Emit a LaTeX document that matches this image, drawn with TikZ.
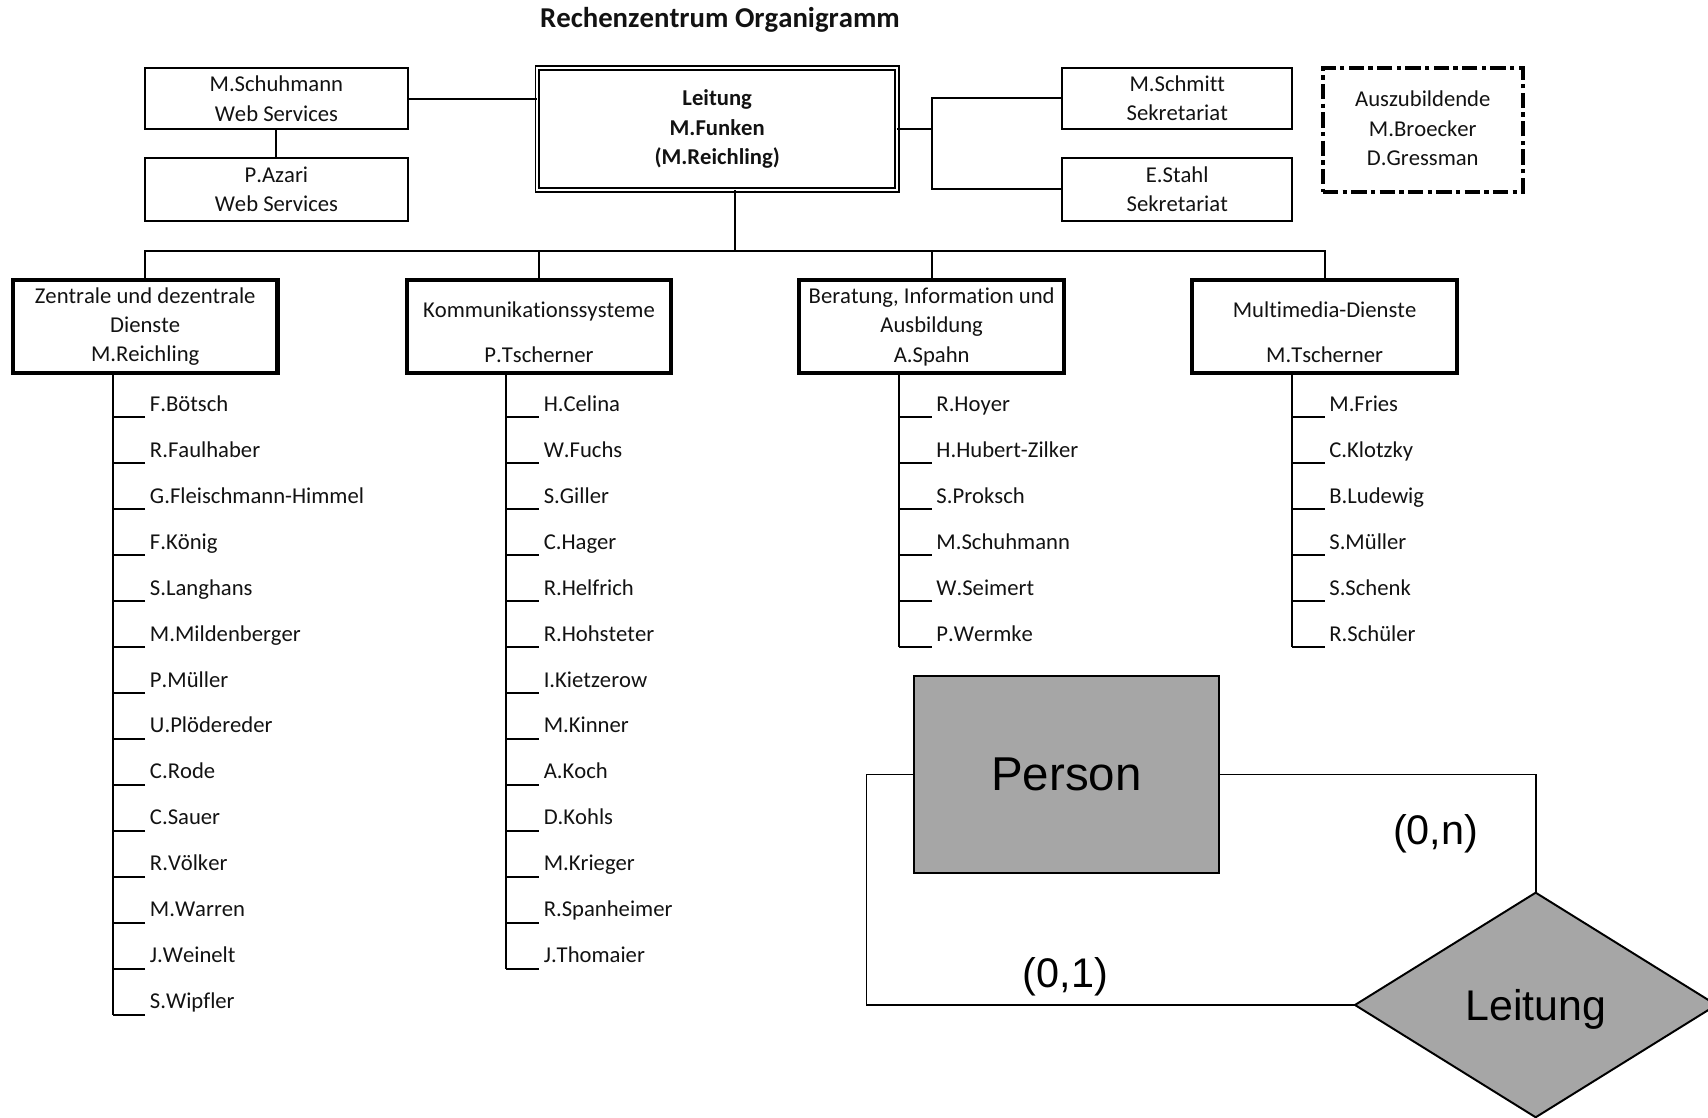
\documentclass[tikz,border=0pt]{standalone}
\usepackage{fontspec}
\setmainfont{Carlito}[Ligatures=NoCommon, Kerning=Off]
\newfontfamily\erfont{Liberation Sans}
\usetikzlibrary{shapes.geometric,calc}
\definecolor{ergray}{RGB}{166,166,166}
\definecolor{ink}{RGB}{18,18,18}

\tikzset{
  orgtext/.style={font=\fontsize{10.4pt}{13.5pt}\selectfont, text=ink},
  link/.style={line width=0.9pt},
  smallbox/.style={draw, line width=0.9pt, minimum width=120.5pt, minimum height=28pt,
    inner sep=0pt, outer sep=0pt, align=center, orgtext},
  leadbox/.style={draw, double, double distance=0.9pt, line width=0.8pt,
    minimum width=165.2pt, minimum height=56pt, inner sep=0pt, outer sep=0pt,
    align=center, orgtext, font=\fontsize{10.4pt}{13.5pt}\selectfont\bfseries},
  traineebox/.style={draw, line width=1.9pt, dash pattern=on 7pt off 2pt on 2pt off 2pt,
    minimum width=91.6pt, minimum height=56.6pt, inner sep=0pt, outer sep=0pt,
    align=center, orgtext},
  deptbox/.style={draw, line width=1.9pt, minimum width=121.5pt, minimum height=42.8pt,
    inner sep=0pt, outer sep=0pt, align=center, orgtext},
  member/.style={orgtext, anchor=base west, inner sep=0pt},
  erline/.style={line width=0.8pt},
  entity/.style={draw, line width=0.9pt, fill=ergray, minimum width=139.7pt,
    minimum height=90.7pt, inner sep=0pt, outer sep=0pt,
    font=\erfont\fontsize{21.8pt}{26pt}\selectfont},
  relation/.style={diamond, draw, line width=0.9pt, fill=ergray, minimum width=165.9pt,
    minimum height=103.1pt, inner sep=0pt, outer sep=0pt, text depth=0pt,
    font=\erfont\fontsize{19.7pt}{24pt}\selectfont},
  cardinality/.style={anchor=base, inner sep=0pt, font=\erfont\fontsize{19pt}{23pt}\selectfont}
}

\begin{document}
\begin{tikzpicture}[x=0.5pt, y=-0.5pt]
\useasboundingbox (0,0) rectangle (1568,1026);
\clip (0,0) rectangle (1568,1026);

% title
\node[anchor=base, inner sep=0pt, text=ink, font=\fontsize{13.2pt}{16pt}\selectfont\bfseries]
  (title) at (661,25.4) {Rechenzentrum Organigramm};

% head of the centre and staff positions
\node[leadbox] (lead) at (658.4,118.45) {Leitung\\M.Funken\\(M.Reichling)};
\node[smallbox] (schu) at (253.75,90.7) {M.Schuhmann\\Web Services};
\node[smallbox, minimum height=28.6pt] (azari) at (253.75,174) {P.Azari\\Web Services};
\node[smallbox, minimum width=105.5pt] (schmitt) at (1080.75,90.4) {M.Schmitt\\Sekretariat};
\node[smallbox, minimum width=105.5pt, minimum height=29.1pt] (stahl) at (1080.75,173.8) {E.Stahl\\Sekretariat};
\node[traineebox] (azubi) at (1306.15,119.35) {Auszubildende\\M.Broecker\\D.Gressman\rule[-1.6pt]{0pt}{0pt}};

\draw[link] (schu.east) -- (lead.west |- schu.east);
\draw[link] (schu.south) -- (azari.north);
\coordinate (sekj) at (855.6,118.45);
\draw[link] (lead.east) -- (sekj);
\draw[link] (schmitt.west) -| (sekj) |- (stahl.west);

% departments
\node[deptbox] (d1) at (133.3,299.8) {Zentrale und dezentrale\\Dienste\\M.Reichling};
\node[deptbox] (d2) at (494.8,299.8) {\rule{0pt}{12.2pt}Kommunikationssysteme\\[7pt]P.Tscherner};
\node[deptbox] (d3) at (855.3,299.8) {Beratung, Information und\\Ausbildung\\A.Spahn};
\node[deptbox] (d4) at (1216,299.8) {\rule{0pt}{12.2pt}Multimedia-Dienste\\[7pt]M.Tscherner};

\coordinate (bus) at (675,230);
\draw[link] (lead.south -| bus) -- (bus);
\draw[link] (d1.north) |- (bus) -| (d4.north);
\draw[link] (d2.north) -- (d2.north |- bus);
\draw[link] (d3.north) -- (d3.north |- bus);

% staff lists below each department
\foreach \dep/\last/\names in {
  d1/13/{F.Bötsch,R.Faulhaber,G.Fleischmann-Himmel,F.König,S.Langhans,M.Mildenberger,P.Müller,U.Plödereder,C.Rode,C.Sauer,R.Völker,M.Warren,J.Weinelt,S.Wipfler},
  d2/12/{H.Celina,W.Fuchs,S.Giller,C.Hager,R.Helfrich,R.Hohsteter,I.Kietzerow,M.Kinner,A.Koch,D.Kohls,M.Krieger,R.Spanheimer,J.Thomaier},
  d3/5/{R.Hoyer,H.Hubert-Zilker,S.Proksch,M.Schuhmann,W.Seimert,P.Wermke},
  d4/5/{M.Fries,C.Klotzky,B.Ludewig,S.Müller,S.Schenk,R.Schüler}}{
  \foreach \nm [count=\i from 0] in \names {
    \node[member] (\dep-m\i) at ($(\dep.south)+(4,{34.9+42.2*\i})$) {\nm};
    \draw[link] ([xshift=-2pt,yshift=-2.75pt]\dep-m\i.base west) -- ++(-30,0) coordinate (\dep-t\i);
  }
  \draw[link] (\dep.south -| \dep-t0) -- (\dep-t\last);
}

% entity-relationship sketch
\node[entity] (person) at (979.1,711) {Person};
\node[relation] (rel) at (1409.8,922.6) {Leitung};
\draw[erline] (person.east) -| (rel.north);
\draw[erline] (person.west) -- ++(-44,0) |- (rel.west);
\node[cardinality] (cardn) at (1318,775.7) {(0,n)};
\node[cardinality] (card1) at (978,907) {(0,1)};
\end{tikzpicture}
\end{document}
